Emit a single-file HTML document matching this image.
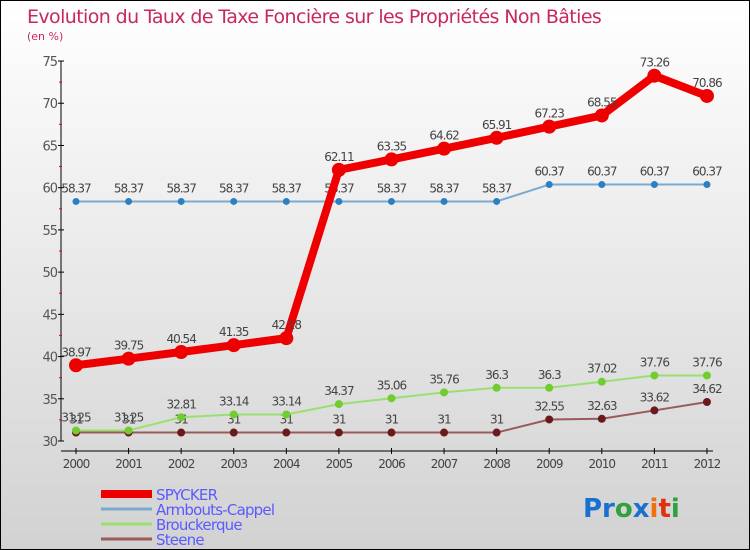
<!DOCTYPE html>
<html><head><meta charset="utf-8"><style>
body{margin:0}
#c{width:750px;height:550px;position:relative;box-sizing:border-box;border:1px solid #000;background:linear-gradient(#ffffff,#d2d2d2);font-family:"DejaVu Sans","Liberation Sans",sans-serif;overflow:hidden}
text{font-family:"DejaVu Sans","Liberation Sans",sans-serif}
</style></head><body>
<div id="c">
<svg id="s" width="750" height="550">
<text x="26" y="22" font-size="19" fill="#c8285a" style="letter-spacing:-0.6px">Evolution du Taux de Taxe Foncière sur les Propriétés Non Bâties</text>
<text x="26" y="39" font-size="11" fill="#c8285a">(en %)</text>
<g id="ax"></g><g id="ser"></g>
<g>
<line x1="100" y1="493" x2="151" y2="493" stroke="#ee0000" stroke-width="8"/>
<text x="155" y="499" font-size="15" fill="#5a5aff" style="letter-spacing:-0.8px">SPYCKER</text>
<line x1="100" y1="508" x2="151" y2="508" stroke="#7aaad0" stroke-width="3"/>
<text x="155" y="514" font-size="15" fill="#5a5aff" style="letter-spacing:-0.8px">Armbouts-Cappel</text>
<line x1="100" y1="523" x2="151" y2="523" stroke="#99e070" stroke-width="3"/>
<text x="155" y="529" font-size="15" fill="#5a5aff" style="letter-spacing:-0.8px">Brouckerque</text>
<line x1="100" y1="538" x2="151" y2="538" stroke="#9a5a5a" stroke-width="3"/>
<text x="155" y="544" font-size="15" fill="#5a5aff" style="letter-spacing:-0.8px">Steene</text>
</g>
<text x="582" y="516" font-size="26" font-weight="bold"><tspan fill="#1a70d0">Pr</tspan><tspan fill="#30a040">o</tspan><tspan fill="#1a70d0">x</tspan><tspan fill="#f07010">i</tspan><tspan fill="#e03010">t</tspan><tspan fill="#30a040">i</tspan></text>
</svg></div>
<script>
const years=[2000,2001,2002,2003,2004,2005,2006,2007,2008,2009,2010,2011,2012];
const spycker=[38.97,39.75,40.54,41.35,42.18,62.11,63.35,64.62,65.91,67.23,68.55,73.26,70.86];
const armbouts=[58.37,58.37,58.37,58.37,58.37,58.37,58.37,58.37,58.37,60.37,60.37,60.37,60.37];
const brouckerque=[31.25,31.25,32.81,33.14,33.14,34.37,35.06,35.76,36.3,36.3,37.02,37.76,37.76];
const steene=[31,31,31,31,31,31,31,31,31,32.55,32.63,33.62,34.62];
const yTicks=[30,35,40,45,50,55,60,65,70,75];
const NS="http://www.w3.org/2000/svg";
const xS=i=>75+i*52.58, yS=v=>440-(v-30)*8.444;
function mk(t,a,p){const e=document.createElementNS(NS,t);for(const k in a)e.setAttribute(k,a[k]);p.appendChild(e);return e;}
const ax=document.getElementById('ax');
let l=mk('line',{x1:60,y1:60,x2:60,y2:440,stroke:'#000'},ax);


l=mk('line',{x1:60,y1:450,x2:712,y2:450,stroke:'#000'},ax);


yTicks.forEach(v=>{const y=yS(v);
 mk('line',{x1:57,x2:63,y1:y,y2:y,stroke:'#000'},ax);
 if(v<75)mk('line',{x1:58,x2:61,y1:yS(v+2.5),y2:yS(v+2.5),stroke:'#e00'},ax);
 const t=mk('text',{x:56,y:y+5,'font-size':13,fill:'#555','text-anchor':'end','letter-spacing':'-1'},ax);t.textContent=v;
 
 });
years.forEach((yr,i)=>{const x=xS(i);
 mk('line',{x1:x,x2:x,y1:447,y2:453,stroke:'#000'},ax);
 const t=mk('text',{x:x,y:467,'font-size':12,fill:'#444','text-anchor':'middle','letter-spacing':'-1'},ax);t.textContent=yr;
 
 });
const ser=document.getElementById('ser');
function series(vals,color,dot,w,r,name){
 const g=mk('g',{},ser);
 
 
 mk('polyline',{points:vals.map((v,i)=>xS(i)+','+yS(v)).join(' '),fill:'none',stroke:color,'stroke-width':w,'stroke-linejoin':'round'},g);
 vals.forEach((v,i)=>{const c=mk('circle',{cx:xS(i),cy:yS(v),r:r,fill:dot},g);
  
  
  const t=mk('text',{x:xS(i),y:yS(v)-9,'font-size':12,fill:'#444','text-anchor':'middle','letter-spacing':'-1'},g);t.textContent=v;
  
  });
}
series(steene,'#9a5a5a','#6a1a1a',2,4,'steene');
series(brouckerque,'#99e070','#70cc30',2,4,'brouckerque');
series(armbouts,'#7aaad0','#2a80c0',2,3.5,'armbouts');
series(spycker,'#ee0000','#ee0000',8,7,'spycker');
</script>
</body></html>
